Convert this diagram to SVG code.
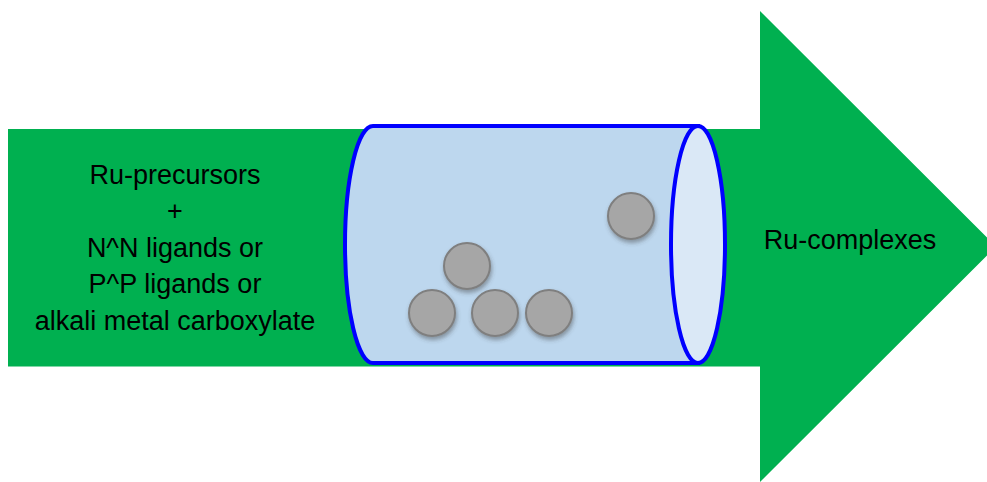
<svg xmlns="http://www.w3.org/2000/svg" width="987" height="482" viewBox="0 0 987 482">
  <style>
    .label { font-family: "Liberation Sans", Arial, sans-serif; font-size: 27px; fill: #000; text-anchor: middle; }
    .bead { fill: #A6A6A6; stroke: #7F7F7F; stroke-width: 2; filter: url(#beadShadow); }
    .tube { stroke: #0000FF; stroke-width: 4; }
  </style>
  <defs>
    <filter id="beadShadow" x="-30%" y="-30%" width="170%" height="170%">
      <feDropShadow dx="1" dy="3" stdDeviation="2" flood-color="#404040" flood-opacity="0.45"/>
    </filter>
  </defs>

  <!-- process arrow -->
  <g id="arrow">
    <polygon points="8,129 760,129 760,11 996,246.5 760,482 760,366.5 8,366.5" fill="#00B050"/>
  </g>

  <!-- reactor tube -->
  <g id="reactor">
    <path class="tube" d="M373,126 L698,126 L698,363 L373,363 A28,118.5 0 0 1 373,126 Z" fill="#BDD7EE"/>
    <ellipse class="tube" cx="698" cy="244.5" rx="27" ry="118.5" fill="#DAE8F6"/>
  </g>

  <!-- catalyst beads -->
  <g id="beads">
    <circle class="bead" cx="631" cy="216" r="23"/>
    <circle class="bead" cx="467" cy="266" r="23"/>
    <circle class="bead" cx="432" cy="313" r="23"/>
    <circle class="bead" cx="495" cy="313" r="23"/>
    <circle class="bead" cx="549" cy="313" r="23"/>
  </g>

  <!-- reactants -->
  <g id="reactants">
    <text class="label" x="175" y="184">Ru-precursors</text>
    <text class="label" x="175" y="220">+</text>
    <text class="label" x="175" y="257">N^N ligands or</text>
    <text class="label" x="175" y="293">P^P ligands or</text>
    <text class="label" x="175" y="330">alkali metal carboxylate</text>
  </g>

  <!-- product -->
  <g id="product">
    <text class="label" x="850" y="249">Ru-complexes</text>
  </g>

  <g id="connectors"/>
</svg>
